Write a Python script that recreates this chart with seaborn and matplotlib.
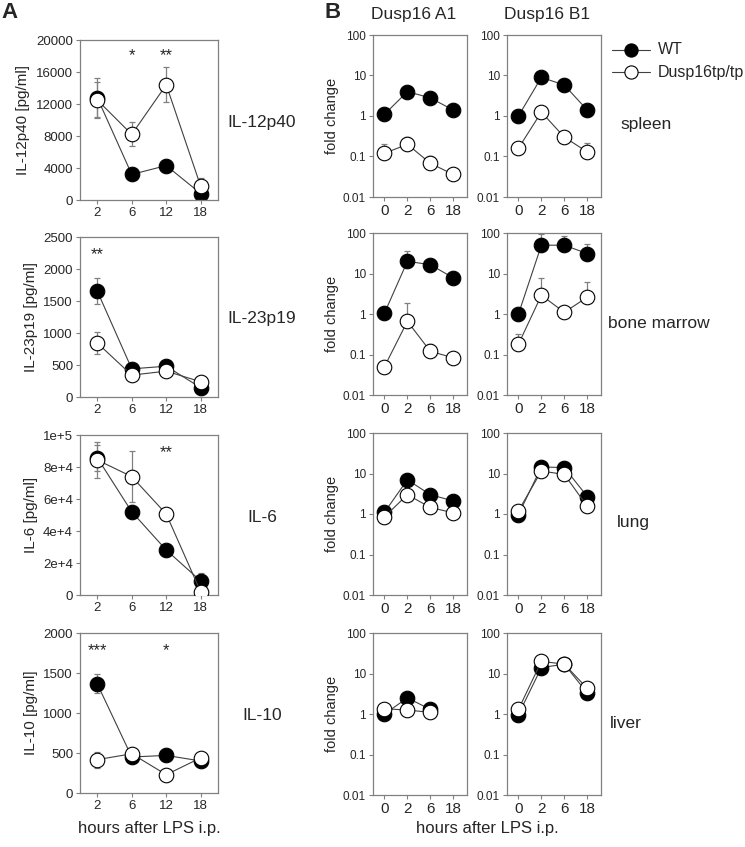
import matplotlib
matplotlib.use('Agg')
import matplotlib.pyplot as plt
import seaborn as sns
import numpy as np
import pandas as pd

sns.set_style('ticks')
plt.rcParams['font.family'] = ['Liberation Sans', 'DejaVu Sans']

# ---- panel A: serum cytokines (pg/ml) ----
a_hours = ['2', '6', '12', '18']
a_names = ['IL-12p40', 'IL-23p19', 'IL-6', 'IL-10']
a_ylabels = ['IL-12p40 [pg/ml]', 'IL-23p19 [pg/ml]', 'IL-6 [pg/ml]', 'IL-10 [pg/ml]']

il12_wt = [12800, 3200, 4300, 800]
il12_ko = [12500, 8200, 14400, 1700]
il12_wt_err = [2400, 300, 300, 300]
il12_ko_err = [2200, 1500, 2200, 1000]

il23_wt = [1656, 440, 481, 145]
il23_ko = [844, 342, 404, 238]
il23_wt_err = [210, 40, 30, 30]
il23_ko_err = [175, 30, 30, 20]

il6_wt = [85800, 52000, 28100, 8750]
il6_ko = [84400, 74000, 50600, 1900]
il6_wt_err = [8000, 2000, 2000, 5000]
il6_ko_err = [11000, 16000, 2000, 1000]

il10_wt = [1365, 450, 470, 400]
il10_ko = [417, 490, 229, 440]
il10_wt_err = [120, 30, 30, 30]
il10_ko_err = [100, 30, 30, 30]

a_yticks = [[0, 4000, 8000, 12000, 16000, 20000],
            [0, 500, 1000, 1500, 2000, 2500],
            [0, 20000, 40000, 60000, 80000, 100000],
            [0, 500, 1000, 1500, 2000]]
a_yticklabels = [['0', '4000', '8000', '12000', '16000', '20000'],
                 ['0', '500', '1000', '1500', '2000', '2500'],
                 ['0', '2e+4', '4e+4', '6e+4', '8e+4', '1e+5'],
                 ['0', '500', '1000', '1500', '2000']]
a_stars = [[('*', 1, 18000), ('**', 2, 18000)],
           [('**', 0, 2230)],
           [('**', 2, 89000)],
           [('***', 0, 1780), ('*', 2, 1780)]]

# ---- panel B: Dusp16 transcripts (fold change) ----
b_hours = ['0', '2', '6', '18']
b_cols = ['Dusp16 A1', 'Dusp16 B1']
b_rows = ['spleen', 'bone marrow', 'lung', 'liver']

spleen_a1_wt = [1.1, 4.0, 2.8, 1.4]
spleen_a1_ko = [0.12, 0.2, 0.068, 0.036]
spleen_a1_wt_err = [0.5, 0.8, 0.6, 0.2]
spleen_a1_ko_err = [0.08, 0.1, 0.035, 0.005]
spleen_b1_wt = [1.0, 9.0, 5.8, 1.4]
spleen_b1_ko = [0.16, 1.25, 0.3, 0.13]
spleen_b1_wt_err = [0.1, 1.0, 0.8, 0.2]
spleen_b1_ko_err = [0.04, 0.2, 0.05, 0.08]

bm_a1_wt = [1.05, 20, 16.5, 7.8]
bm_a1_ko = [0.05, 0.66, 0.12, 0.083]
bm_a1_wt_err = [0.1, 15, 3, 1]
bm_a1_ko_err = [0.005, 1.2, 0.06, 0.01]
bm_b1_wt = [1.0, 50, 50, 31]
bm_b1_ko = [0.18, 2.9, 1.1, 2.6]
bm_b1_wt_err = [0.1, 45, 35, 24]
bm_b1_ko_err = [0.15, 5, 0.2, 3.4]

lung_a1_wt = [1.1, 7.0, 3.0, 2.1]
lung_a1_ko = [0.85, 3.0, 1.45, 1.07]
lung_a1_wt_err = [0.1, 1.0, 0.5, 0.3]
lung_a1_ko_err = [0.1, 0.5, 0.3, 0.2]
lung_b1_wt = [0.97, 14.5, 14, 2.7]
lung_b1_ko = [1.2, 11.5, 9.5, 1.55]
lung_b1_wt_err = [0.1, 2, 2, 0.5]
lung_b1_ko_err = [0.1, 2, 1.5, 0.3]

liver_a1_wt = [1.0, 2.5, 1.3, np.nan]
liver_a1_ko = [1.35, 1.25, 1.1, np.nan]
liver_a1_wt_err = [0.1, 0.4, 0.2, np.nan]
liver_a1_ko_err = [0.1, 0.2, 0.1, np.nan]
liver_b1_wt = [0.97, 14, 17, 3.3]
liver_b1_ko = [1.3, 20, 17, 4.3]
liver_b1_wt_err = [0.1, 2, 3, 0.6]
liver_b1_ko_err = [0.1, 3, 3, 0.6]

a_data = [(il12_wt, il12_ko, il12_wt_err, il12_ko_err),
          (il23_wt, il23_ko, il23_wt_err, il23_ko_err),
          (il6_wt, il6_ko, il6_wt_err, il6_ko_err),
          (il10_wt, il10_ko, il10_wt_err, il10_ko_err)]
b_data = [[(spleen_a1_wt, spleen_a1_ko, spleen_a1_wt_err, spleen_a1_ko_err),
           (spleen_b1_wt, spleen_b1_ko, spleen_b1_wt_err, spleen_b1_ko_err)],
          [(bm_a1_wt, bm_a1_ko, bm_a1_wt_err, bm_a1_ko_err),
           (bm_b1_wt, bm_b1_ko, bm_b1_wt_err, bm_b1_ko_err)],
          [(lung_a1_wt, lung_a1_ko, lung_a1_wt_err, lung_a1_ko_err),
           (lung_b1_wt, lung_b1_ko, lung_b1_wt_err, lung_b1_ko_err)],
          [(liver_a1_wt, liver_a1_ko, liver_a1_wt_err, liver_a1_ko_err),
           (liver_b1_wt, liver_b1_ko, liver_b1_wt_err, liver_b1_ko_err)]]

W, H = 745, 847
fig = plt.figure(figsize=(W / 100, H / 100), dpi=100)
GRAY = '#808080'


def px_axes(left, top, width, height):
    return fig.add_axes([left / W, 1 - (top + height) / H, width / W, height / H])


def ftext(x, y, s, **kw):
    fig.text(x / W, 1 - y / H, s, **kw)


def style_axes(ax):
    for sp in ax.spines.values():
        sp.set_color(GRAY)
        sp.set_linewidth(0.9)
        sp.set_visible(True)
    ax.tick_params(axis='both', direction='out', length=3, width=0.8, color=GRAY, pad=2)
    ax.set_xlabel('')
    ax.set_ylabel('')


def draw_series(ax, labels, wt, ko, wt_err, ko_err, upper_only):
    pos = np.arange(len(labels))
    for vals, err in [(wt, wt_err), (ko, ko_err)]:
        vals = np.array(vals, dtype=float)
        err = np.array(err, dtype=float)
        yerr = [np.zeros_like(err), err] if upper_only else err
        ax.errorbar(pos, vals, yerr=yerr, fmt='none', ecolor=GRAY, elinewidth=0.9,
                    capsize=2.5, capthick=0.9, zorder=1)
    for vals, face, z in [(wt, 'black', 2), (ko, 'white', 3)]:
        df = pd.DataFrame({'pos': pos, 'val': vals}).dropna()
        sns.lineplot(data=df, x='pos', y='val', ax=ax, color='#404040', linewidth=0.8,
                     marker='o', markersize=10.5, markerfacecolor=face,
                     markeredgecolor='black', markeredgewidth=0.8, zorder=z)


# panel A
a_top = [40, 237, 435, 633]
for i in range(4):
    ax = px_axes(80, a_top[i], 138, 160)
    wt, ko, we, ke = a_data[i]
    draw_series(ax, a_hours, wt, ko, we, ke, upper_only=False)
    style_axes(ax)
    ax.set_xlim(-0.5, 3.5)
    ax.set_ylim(a_yticks[i][0], a_yticks[i][-1])
    ax.set_xticks(range(4))
    ax.set_xticklabels(a_hours, fontsize=9.5)
    ax.set_yticks(a_yticks[i])
    ax.set_yticklabels(a_yticklabels[i], fontsize=9.5)
    ax.set_ylabel(a_ylabels[i], fontsize=11, labelpad=4)
    for s, xp, yp in a_stars[i]:
        ax.text(xp, yp, s, ha='center', va='center', fontsize=12)
    ftext(262, a_top[i] + 82, a_names[i], ha='center', va='center', fontsize=12.5)

# panel B
b_top = [35, 233, 433, 633]
b_left = [373, 507]
b_label_x = [620, 608, 617, 610]
for r in range(4):
    for c in range(2):
        ax = px_axes(b_left[c], b_top[r], 94, 162)
        wt, ko, we, ke = b_data[r][c]
        draw_series(ax, b_hours, wt, ko, we, ke, upper_only=True)
        style_axes(ax)
        ax.set_yscale('log')
        ax.set_ylim(0.01, 100)
        ax.set_xlim(-0.5, 3.6)
        ax.set_xticks(range(4))
        ax.set_xticklabels(b_hours, fontsize=11)
        ax.set_yticks([0.01, 0.1, 1, 10, 100])
        ax.set_yticklabels(['0.01', '0.1', '1', '10', '100'], fontsize=8.5)
        ax.minorticks_off()
        if c == 0:
            ax.set_ylabel('fold change', fontsize=10.5, labelpad=3)
    ftext(b_label_x[r], b_top[r] + 90, b_rows[r], ha='left', va='center', fontsize=12.5)

ftext(414, 15, b_cols[0], ha='center', va='center', fontsize=12.5)
ftext(547, 15, b_cols[1], ha='center', va='center', fontsize=12.5)

# legend
lx0, lx1, tx = 612, 650, 658
for yy, face, lab in [(50, 'black', 'WT'), (72, 'white', 'Dusp16tp/tp')]:
    fig.add_artist(matplotlib.lines.Line2D([lx0 / W, lx1 / W], [1 - yy / H, 1 - yy / H],
                                           color='#404040', linewidth=0.8))
    fig.add_artist(matplotlib.lines.Line2D([(lx0 + lx1) / 2 / W], [1 - yy / H],
                                           marker='o', markersize=9.5, markerfacecolor=face,
                                           markeredgecolor='black', markeredgewidth=0.8,
                                           linestyle='none'))
    ftext(tx, yy, lab, ha='left', va='center', fontsize=11.5)

ftext(9, 12, 'A', ha='center', va='center', fontsize=16, fontweight='bold')
ftext(333, 13, 'B', ha='center', va='center', fontsize=16, fontweight='bold')
ftext(149, 828, 'hours after LPS i.p.', ha='center', va='center', fontsize=12)
ftext(487, 828, 'hours after LPS i.p.', ha='center', va='center', fontsize=12)

fig.savefig('out.png', dpi=100)
